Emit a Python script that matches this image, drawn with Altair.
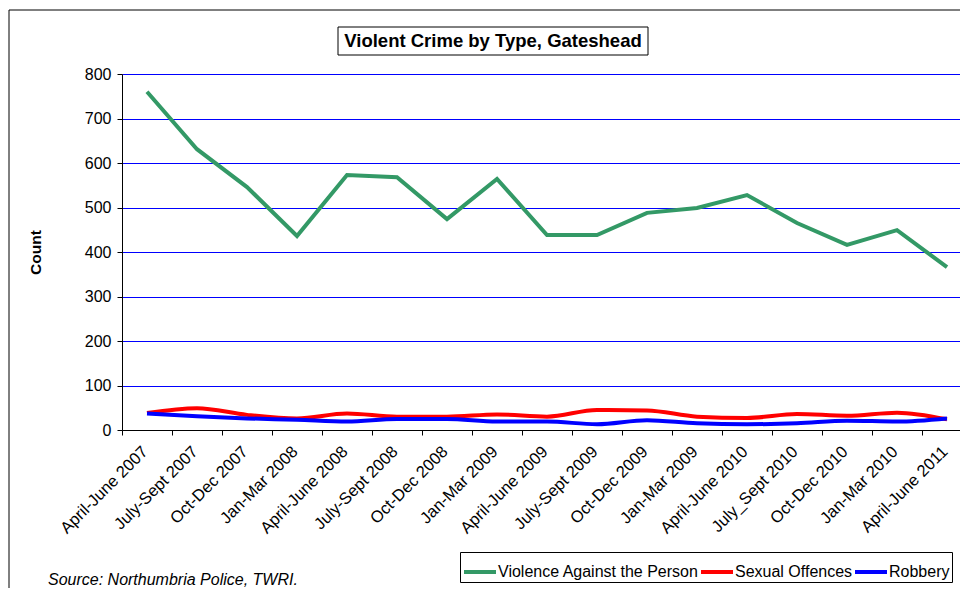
import altair as alt
import pandas as pd

categories = ["April-June 2007", "July-Sept 2007", "Oct-Dec 2007", "Jan-Mar 2008",
              "April-June 2008", "July-Sept 2008", "Oct-Dec 2008", "Jan-Mar 2009",
              "April-June 2009", "July-Sept 2009", "Oct-Dec 2009", "Jan-Mar 2009 ",
              "April-June 2010", "July_Sept 2010", "Oct-Dec 2010", "Jan-Mar 2010",
              "April-June 2011"]
violence = [760, 631, 546, 436, 573, 568, 474, 564, 438, 438, 488, 499, 528, 465, 416, 449, 366]
sexual = [38, 49, 34, 26, 37, 30, 30, 35, 30, 45, 44, 30, 27, 36, 32, 39, 24]
robbery = [37, 31, 26, 23, 19, 25, 25, 19, 19, 13, 22, 15, 13, 15, 21, 19, 26]

series_names = ["Violence Against the Person", "Sexual Offences", "Robbery"]
series_colors = ["#339966", "#FF0000", "#0000FF"]

rows = []
for name, vals in zip(series_names, [violence, sexual, robbery]):
    for i, (c, v) in enumerate(zip(categories, vals)):
        rows.append({"period": c, "order": i, "series": name, "count": v})
df = pd.DataFrame(rows)

FONT = "Liberation Sans"
FS = 16

x_enc = alt.X("period:N", sort=categories,
              scale=alt.Scale(range=[0, 850], paddingInner=0, paddingOuter=0),
              axis=alt.Axis(title=None, labelAngle=-45, labelFontSize=16.5, labelFont=FONT,
                            labelColor="black", tickBand="extent", tickColor="black",
                            tickSize=5, domainColor="black", labelPadding=8,
                            labelOffset=-8,
                            labelOverlap=False, labelLimit=400, grid=False))
y_enc = alt.Y("count:Q", scale=alt.Scale(domain=[0, 800]),
              axis=alt.Axis(title="Count", titleFontSize=15.5, titleFont=FONT,
                            titleFontWeight="bold", titleColor="black",
                            titleX=-87, titleY=178, titleBaseline="middle",
                            values=list(range(0, 801, 100)), labelFontSize=FS,
                            labelFont=FONT, labelColor="black", tickColor="black",
                            tickSize=5, labelPadding=6, domainColor="black",
                            gridColor="#0000FF", gridWidth=1, gridOpacity=1))
color_enc = alt.Color("series:N",
                      scale=alt.Scale(domain=series_names, range=series_colors),
                      legend=alt.Legend(title=None, orient="none", legendX=338, legendY=478,
                                        direction="horizontal", strokeColor="black",
                                        fillColor="white", padding=2, labelFontSize=FS,
                                        labelFont=FONT, labelColor="black", labelLimit=400,
                                        symbolType="stroke", symbolStrokeWidth=4,
                                        symbolSize=1024, columnPadding=-8, labelOffset=0))

base = alt.Chart(df)

green = base.transform_filter(alt.datum.series == series_names[0]).mark_line(
    strokeWidth=4, clip=False).encode(x=x_enc, y=y_enc, color=color_enc, order="order:Q")
others = base.transform_filter(alt.datum.series != series_names[0]).mark_line(
    strokeWidth=4, interpolate="monotone", clip=False).encode(
    x=x_enc, y=y_enc, color=color_enc, order="order:Q")

one = pd.DataFrame({"t": ["Violent Crime by Type, Gateshead"],
                    "s": ["Source: Northumbria Police, TWRI."]})

frame = alt.Chart(one).mark_rect(fill=None, stroke="black", strokeWidth=1).encode(
    x=alt.value(-113), x2=alt.value(900), y=alt.value(-64), y2=alt.value(700))
title_box = alt.Chart(one).mark_rect(fill="white", stroke="black", strokeWidth=1).encode(
    x=alt.value(216), x2=alt.value(526), y=alt.value(-47), y2=alt.value(-19))
title_text = alt.Chart(one).mark_text(font=FONT, fontSize=18.5, fontWeight="bold",
                                      color="black", align="center", baseline="middle").encode(
    text="t:N", x=alt.value(371), y=alt.value(-33))
source_text = alt.Chart(one).mark_text(font=FONT, fontSize=FS, fontStyle="italic",
                                       color="black", align="left", baseline="alphabetic").encode(
    text="s:N", x=alt.value(-74), y=alt.value(511))

chart = alt.layer(frame, title_box, title_text, source_text, green, others).properties(
    width=838, height=356,
    autosize=alt.AutoSizeParams(type="none"),
    padding={"left": 114, "top": 66, "right": 0, "bottom": 158},
).configure_view(stroke=None).configure(background="white")

chart.save("out.html", embed_options={"renderer": "svg", "actions": False})
